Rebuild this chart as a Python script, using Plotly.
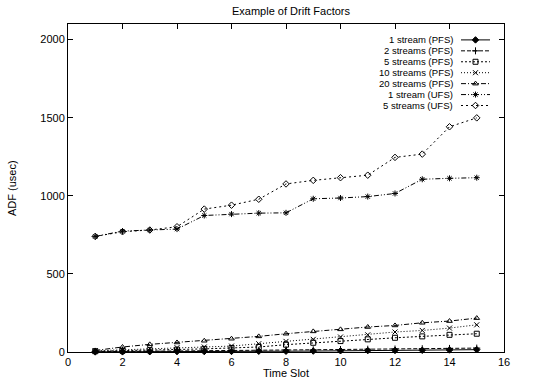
import plotly.graph_objects as go

time_slots = list(range(1, 16))

series_names = [
    "1 stream (PFS)", "2 streams (PFS)", "5 streams (PFS)", "10 streams (PFS)",
    "20 streams (PFS)", "1 stream (UFS)", "5 streams (UFS)",
]
pfs_1 = [1, 1, 2, 3, 3, 4, 5, 5, 6, 8, 9, 10, 11, 13, 15]
pfs_2 = [2, 3, 5, 6, 8, 10, 11, 13, 14, 16, 18, 19, 21, 23, 25]
pfs_5 = [5, 8, 12, 15, 20, 26, 32, 47, 59, 70, 81, 91, 100, 110, 117]
pfs_10 = [8, 15, 22, 28, 32, 38, 53, 68, 81, 96, 110, 128, 138, 153, 174]
pfs_20 = [10, 32, 49, 61, 72, 85, 100, 117, 132, 145, 160, 170, 187, 198, 217]
ufs_1 = [740, 774, 781, 787, 874, 883, 889, 891, 981, 986, 995, 1015, 1106, 1112, 1116]
ufs_5 = [740, 770, 781, 802, 915, 940, 978, 1076, 1099, 1116, 1132, 1246, 1267, 1442, 1499]

x_ticks = list(range(0, 17, 2))
y_ticks = [0, 500, 1000, 1500, 2000]

values = [pfs_1, pfs_2, pfs_5, pfs_10, pfs_20, ufs_1, ufs_5]
dashes = ["solid", "4px,2px", "2px,2px", "1px,2px", "5px,2px,1px,2px",
          "5px,2px,1px,2px,1px,2px", "2px,3px"]
symbols = ["diamond", "cross-thin-open", "square-open", "x-thin-open",
           "triangle-up-open", "asterisk-open", "diamond-open"]
sizes = [5, 5, 5, 5, 5, 5, 5]

FONT = "Liberation Sans, Arial, sans-serif"
FS = 11
W, H = 535, 380
L, R, T, B = 68, 31, 24, 26
PW, PH = W - L - R, H - T - B


def px_to_paper_x(px):
    return (px - L) / PW


def px_to_paper_y(py):
    return (H - B - py) / PH


fig = go.Figure()
for name, v, d, s, sz in zip(series_names, values, dashes, symbols, sizes):
    fig.add_trace(go.Scatter(
        x=time_slots, y=v, name=name, mode="lines+markers",
        line=dict(color="black", width=1, dash=d),
        marker=dict(symbol=s, size=sz, color="black", line=dict(color="black", width=1)),
        showlegend=False, cliponaxis=False,
    ))

# gnuplot-style key (text right-aligned, sample to the right), in pixel coords
key_text_right = 455
key_x1, key_x2 = 461, 490
key_y0, key_dy = 40, 11
for i, (name, d, s, sz) in enumerate(zip(series_names, dashes, symbols, sizes)):
    yy = key_y0 + i * key_dy
    fig.add_trace(go.Scatter(
        x=[key_x1, key_x2], y=[yy, yy],
        xaxis="x2", yaxis="y2", mode="lines",
        line=dict(color="black", width=1, dash=d), showlegend=False,
        hoverinfo="skip",
    ))
    fig.add_trace(go.Scatter(
        x=[(key_x1 + key_x2) / 2], y=[yy], xaxis="x2", yaxis="y2", mode="markers",
        marker=dict(symbol=s, size=sz, color="black", line=dict(color="black", width=1)),
        showlegend=False, hoverinfo="skip",
    ))
    fig.add_annotation(x=key_text_right, y=yy, xref="x2", yref="y2", text=name,
                       showarrow=False, xanchor="right", yanchor="middle",
                       font=dict(family=FONT, size=9.5, color="black"))

# titles as annotations placed in pixel positions
fig.add_annotation(x=px_to_paper_x(291), y=px_to_paper_y(11), xref="paper", yref="paper",
                   text="Example of Drift Factors", showarrow=False,
                   xanchor="center", yanchor="middle",
                   font=dict(family=FONT, size=FS, color="black"))
fig.add_annotation(x=px_to_paper_x(L + PW / 2), y=px_to_paper_y(375), xref="paper", yref="paper",
                   text="Time Slot", showarrow=False, xanchor="center", yanchor="middle",
                   font=dict(family=FONT, size=FS, color="black"))
fig.add_annotation(x=px_to_paper_x(12), y=px_to_paper_y(T + PH / 2), xref="paper", yref="paper",
                   text="ADF (usec)", showarrow=False, textangle=-90,
                   xanchor="center", yanchor="middle",
                   font=dict(family=FONT, size=FS, color="black"))

axis_common = dict(
    showgrid=False, zeroline=False, showline=True, linecolor="black", linewidth=1,
    mirror="allticks", ticks="inside", ticklen=5, tickcolor="black", tickwidth=1,
    tickfont=dict(family=FONT, size=FS, color="black"),
)
fig.update_layout(
    width=W, height=H,
    margin=dict(l=L, r=R, t=T, b=B),
    paper_bgcolor="white", plot_bgcolor="white",
    xaxis=dict(range=[0, 16], tickvals=x_ticks, ticktext=[str(t) for t in x_ticks],
               **axis_common),
    yaxis=dict(range=[0, 2100], tickvals=y_ticks, ticktext=[str(t) for t in y_ticks],
               **axis_common),
    xaxis2=dict(range=[L, W - R], overlaying="x", visible=False, fixedrange=True),
    yaxis2=dict(range=[H - B, T], overlaying="y", visible=False, fixedrange=True),
    showlegend=False,
)

fig.write_html("out.html", config={"displayModeBar": False},
               post_script="document.body.style.margin='0';")
